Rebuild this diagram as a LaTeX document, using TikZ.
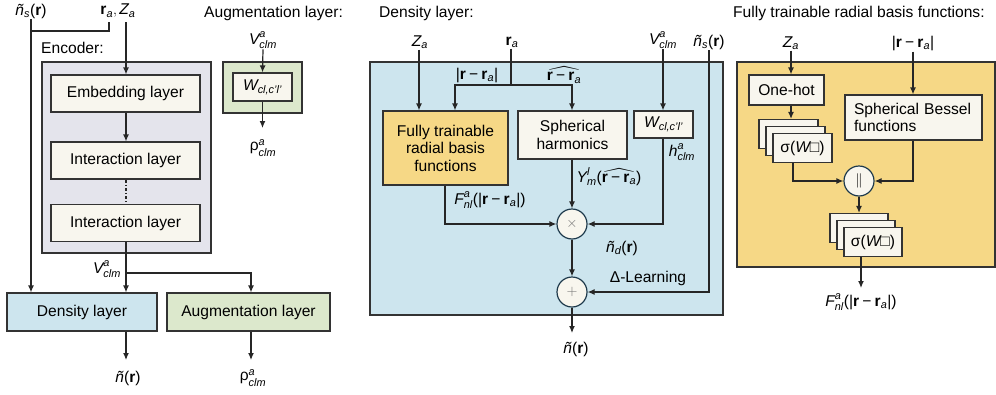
\documentclass[tikz,border=0pt]{standalone}
\usepackage{amsmath,amssymb}
\usepackage{fontspec}
\setmainfont{Liberation Sans}
\usetikzlibrary{arrows.meta}
\newcommand{\iv}[1]{\textit{#1}}
\newcommand{\bfr}{\textbf{r}}
\newcommand{\mn}{\mathbin{\textup{−}}}
\newcommand{\LP}{\textup{(}}
\newcommand{\RP}{\textup{)}}
\newcommand{\VB}{\textup{|}}
\newcommand{\nt}{\textit{ñ}}
\definecolor{encgray}{HTML}{E4E4EC}
\definecolor{cream}{HTML}{F8F6EE}
\definecolor{dblue}{HTML}{CDE5EE}
\definecolor{agreen}{HTML}{DCE8CC}
\definecolor{orng}{HTML}{F6D886}
\definecolor{edgec}{HTML}{333333}
\definecolor{circedge}{HTML}{1E3A4C}
\begin{document}
\begin{tikzpicture}[x=1pt,y=-1pt,font=\fontsize{15.6}{17.5}\selectfont,
  box/.style={draw=edgec,line width=1.2pt,fill=cream,inner sep=0pt},
  panel/.style={draw=edgec,line width=1.2pt,inner sep=0pt},
  arr/.style={-{Latex[length=7pt,width=6pt]},line width=1.2pt,draw=black!85},
  ln/.style={line width=1.2pt,draw=black!85},
  op/.style={circle,draw=circedge,line width=1.2pt,fill=cream,minimum size=30pt,inner sep=0pt},
  lbl/.style={inner sep=1pt}]
\useasboundingbox (0,0) rectangle (996,394);

% ---------------- left panel ----------------
\node[lbl] (nsl) at (31,11) {$\nt_{\iv{s}}\LP\bfr\RP$};
\node[lbl] (raz) at (118,11) {$\bfr_{\iv{a}}, \iv{Z}_{\iv{a}}$};
\coordinate (rab) at (109,22);
\coordinate (zab) at (126,22);
\coordinate (jn) at (31,31);
\node[panel,fill=encgray,minimum width=169pt,minimum height=191pt] (enc) at (126.5,157.5) {};
\node[lbl,anchor=west] (enclbl) at (40,48) {Encoder:};
\node[box,minimum width=149pt,minimum height=37pt] (emb) at (125.5,93.5) {Embedding layer};
\node[box,minimum width=149pt,minimum height=37pt] (int1) at (125.5,160.5) {Interaction layer};
\node[box,minimum width=149pt,minimum height=37pt] (int2) at (125.5,223) {Interaction layer};
\node[box,fill=dblue,minimum width=150pt,minimum height=38pt] (dens) at (82,312) {Density layer};
\node[box,fill=agreen,minimum width=163pt,minimum height=38pt] (aug) at (248.5,312) {Augmentation layer};
\draw[arr] (nsl.south) -- (nsl.south |- dens.north);
\draw[ln] (rab) |- (jn);
\draw[arr] (zab) -- (zab |- emb.north);
\draw[arr] (emb.south -| zab) -- (int1.north -| zab);
\draw[ln,dash dot] (int1.south -| zab) -- (int2.north -| zab);
\coordinate (vb) at (126,273);
\draw[arr] (int2.south -| zab) -- (dens.north -| zab);
\draw[arr] (vb) -| ([xshift=2.5pt]aug.north);
\node[lbl] (vlbl) at (107,269) {$\iv{V}^{\iv{a}}_{\iv{clm}}$};
\coordinate (o1) at (126,360);
\coordinate (o2) at (251,360);
\draw[arr] (dens.south -| o1) -- (o1);
\draw[arr] (aug.south -| o2) -- (o2);
\node[lbl] (nout1) at (128,378) {$\nt\LP\bfr\RP$};
\node[lbl] (rout1) at (253,378) {ρ$^{\iv{a}}_{\iv{clm}}$};

% ---------------- augmentation small panel ----------------
\node[lbl,anchor=west] (augt) at (203,13) {Augmentation layer:};
\node[lbl] (va) at (263,40) {$\iv{V}^{\iv{a}}_{\iv{clm}}$};
\node[panel,fill=agreen,minimum width=79pt,minimum height=51pt] (agbox) at (262.5,87.5) {};
\node[box,minimum width=59pt,minimum height=28pt] (wa) at (262.5,87) {$\iv{W}_{\iv{cl,c'l'}}$};
\coordinate (ao) at (262.5,128);
\draw[arr] (va.south) -- (wa.north);
\draw[arr] (wa.south) -- (ao);
\node[lbl] (ra) at (263,148) {ρ$^{\iv{a}}_{\iv{clm}}$};

% ---------------- density panel ----------------
\node[lbl,anchor=west] (dent) at (378,13) {Density layer:};
\node[panel,fill=dblue,minimum width=353pt,minimum height=253pt] (dbox) at (546.5,188.5) {};
\node[lbl] (za2) at (420,42) {$\iv{Z}_{\iv{a}}$};
\node[lbl] (ra2) at (512,42) {$\bfr_{\iv{a}}$};
\node[lbl] (v2) at (663,40) {$\iv{V}^{\iv{a}}_{\iv{clm}}$};
\node[lbl] (ns2) at (709,42) {$\nt_{\iv{s}}\LP\bfr\RP$};
\node[box,fill=orng,minimum width=125pt,minimum height=74pt,align=center] (ftr) at (445.5,148) {Fully trainable\\radial basis\\functions};
\node[box,minimum width=109pt,minimum height=48pt,align=center] (sh) at (572.5,135) {Spherical\\harmonics};
\node[box,minimum width=59pt,minimum height=27pt] (w2) at (663.5,124.5) {$\iv{W}_{\iv{cl,c'l'}}$};
\node[op] (mul) at (572,224) {\textcolor{black!55}{$\times$}};
\node[op] (add) at (572,292) {\textcolor{black!55}{$+$}};
\coordinate (rj) at (511,85);
\coordinate (rjl) at (455,85);
\coordinate (rjr) at (572,85);
\draw[arr] (za2.south -| 419,0) -- (ftr.north -| 419,0);
\draw[ln] (ra2.south -| rj) -- (rj);
\draw[arr] (rj) -- (rjl) -- (rjl |- ftr.north);
\draw[arr] (rj) -- (rjr) -- (rjr |- sh.north);
\draw[arr] (v2.south) -- (w2.north -| v2.south);
\draw[arr] (sh.south -| mul) -- (mul.north);
\draw[arr] (w2.south -| v2.south) |- (mul.east);
\draw[arr] (ftr.south -| 445,0) |- (mul.west);
\draw[arr] (mul.south) -- (add.north);
\draw[arr] (ns2.south) |- (add.east);
\coordinate (dout) at (572,333);
\draw[arr] (add.south) -- (dout);
\node[lbl] (dn) at (576,349) {$\nt\LP\bfr\RP$};
\node[lbl] (l1) at (477,75) {$\VB\bfr\mn\bfr_{\iv{a}}\VB$};
\node[lbl] (l2) at (564,75) {$\widehat{\bfr\mn\bfr_{\iv{a}}}$};
\node[lbl] (lh) at (682,152) {$\iv{h}^{\iv{a}}_{\iv{clm}}$};
\node[lbl] (ly) at (609,177) {$\iv{Y}^{\iv{l}}_{\iv{m}}\LP\widehat{\bfr\mn\bfr_{\iv{a}}}\RP$};
\node[lbl] (lf) at (490,200) {$\iv{F}^{\iv{a}}_{\iv{nl}}\LP\VB\bfr\mn\bfr_{\iv{a}}\VB\RP$};
\node[lbl] (lnd) at (622,248) {$\nt_{\iv{d}}\LP\bfr\RP$};
\node[lbl] (ldl) at (648,278) {Δ-Learning};

% ---------------- right panel ----------------
\node[lbl,anchor=west] (rbt) at (732,13) {Fully trainable radial basis functions:};
\node[panel,fill=orng,minimum width=258pt,minimum height=205pt] (rbox) at (866,164.5) {};
\node[lbl] (za3) at (791,43) {$\iv{Z}_{\iv{a}}$};
\node[lbl] (d3) at (913,43) {$\VB\bfr\mn\bfr_{\iv{a}}\VB$};
\node[box,minimum width=75pt,minimum height=30pt] (oh) at (786.5,90) {One-hot};
\node[box,minimum width=59pt,minimum height=29pt] (s1a) at (788.5,134) {};
\node[box,minimum width=59pt,minimum height=29pt] (s1b) at (795.5,141) {};
\node[box,minimum width=59pt,minimum height=29pt] (s1c) at (802.5,148) {σ($\iv{W}$□)};
\node[box,minimum width=137pt,minimum height=45pt,align=left,text width=119pt] (bes) at (913.5,117.5) {Spherical Bessel\\functions};
\node[op] (cat) at (859,181) {$\|$};
\node[box,minimum width=58pt,minimum height=29pt] (s2a) at (859,228) {};
\node[box,minimum width=58pt,minimum height=29pt] (s2b) at (866,235) {};
\node[box,minimum width=58pt,minimum height=29pt] (s2c) at (873,242) {σ($\iv{W}$□)};
\draw[arr] (za3.south) -- (za3.south |- oh.north);
\draw[arr] (oh.south -| za3) -- (s1a.north -| za3);
\draw[arr] (d3.south) -- (bes.north -| d3.south);
\draw[arr] ([xshift=-9.5pt]s1c.south) |- (cat.west);
\draw[arr] (bes.south -| d3.south) |- (cat.east);
\draw[arr] (cat.south) -- (s2a.north);
\coordinate (fo) at (861,288);
\draw[arr] ([xshift=-12pt]s2c.south) -- (fo);
\node[lbl] (lf3) at (861,302) {$\iv{F}^{\iv{a}}_{\iv{nl}}\LP\VB\bfr\mn\bfr_{\iv{a}}\VB\RP$};
\end{tikzpicture}
\end{document}
